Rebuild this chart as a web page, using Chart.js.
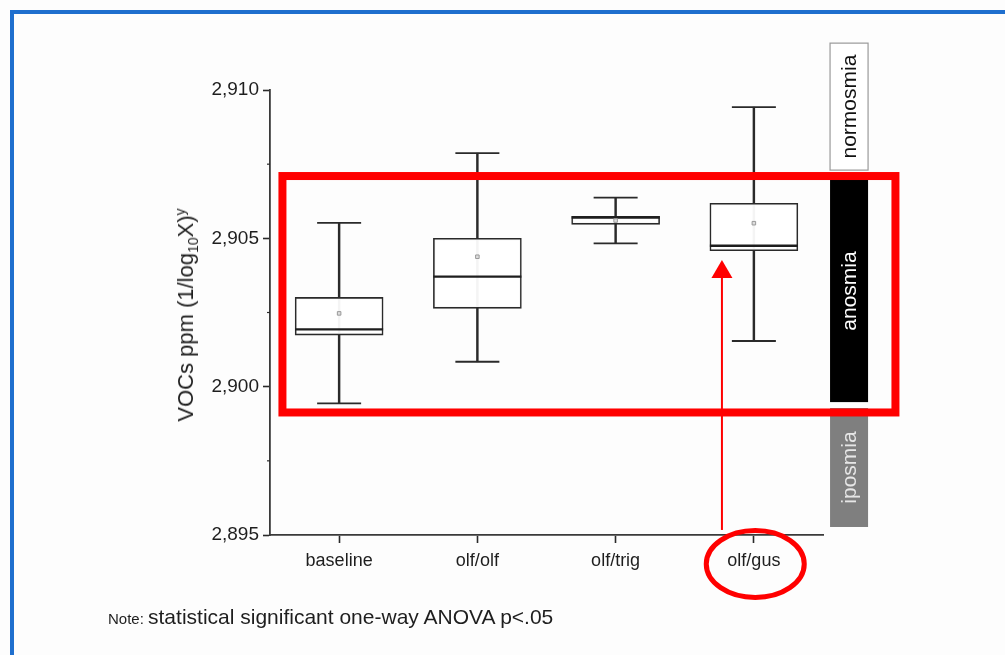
<!DOCTYPE html>
<html>
<head>
<meta charset="utf-8">
<script src="https://cdn.jsdelivr.net/npm/chart.js@4.4.1/dist/chart.umd.min.js"></script>
<style>
  html, body { margin: 0; padding: 0; background: #fdfdfd; }
  #wrap { position: relative; width: 1005px; height: 655px; overflow: hidden; font-family: "Liberation Sans", Arial, sans-serif; }
  #frame { position: absolute; left: 10px; top: 10px; width: 1100px; height: 800px;
           border-left: 4px solid #1f6fce; border-top: 4px solid #1f6fce; }
  #chartBox { position: absolute; left: 0; top: 0; width: 1005px; height: 655px; }
  #ytitle { position: absolute; left: 186px; top: 315px; transform: translate(-50%, -50%) rotate(-90deg);
            white-space: nowrap; font-size: 22px; color: #1e1e1e; }
  #ytitle sub, #ytitle sup { font-size: 14px; line-height: 0; }
  #note { position: absolute; left: 108px; top: 605px; white-space: nowrap; color: #1e1e1e; }
  #note .n { font-size: 15px; }
  #note .t { font-size: 21px; }
</style>
</head>
<body>
<div id="wrap">
  <div id="frame"></div>
  <div id="chartBox"><canvas id="myChart"></canvas></div>
  <div id="ytitle">VOCs ppm (1/log<sub>10</sub>X)<sup>y</sup></div>
  <div id="note"><span class="n">Note: </span><span class="t">statistical significant one-way ANOVA p&lt;.05</span></div>
</div>
<script>
// data
const groups = ["baseline", "olf/olf", "olf/trig", "olf/gus"];
const whiskerLow  = [2.89944, 2.90084, 2.90483, 2.90154];
const q1          = [2.90174, 2.90264, 2.90547, 2.90458];
const median      = [2.90193, 2.90371, 2.90570, 2.90475];
const q3          = [2.90301, 2.90500, 2.90574, 2.90618];
const whiskerHigh = [2.90552, 2.90787, 2.90637, 2.90942];
const means       = [2.90247, 2.90438, 2.90560, 2.90551];

const yMin = 2.895, yMax = 2.910, yStep = 0.0025;

// olfactory bands on the right (y in data units)
const bandNames = ["normosmia", "anosmia", "iposmia"];
const bandFrom  = [2.90730, 2.89948, 2.89527];
const bandTo    = [2.91158, 2.90697, 2.89928];
const bandFill  = ["#ffffff", "#000000", "#7f7f7f"];
const bandText  = ["#111111", "#ffffff", "#e6e6e6"];

const ink = "#2a2a2a";

const overlays = {
  id: "overlays",
  afterDraw(chart) {
    const ctx = chart.ctx;
    const x = chart.scales.x, y = chart.scales.y;
    ctx.save();

    // side bands
    const bx0 = x.getPixelForValue(3.551), bx1 = x.getPixelForValue(3.826);
    bandNames.forEach((name, i) => {
      const top = y.getPixelForValue(bandTo[i]);
      const bot = y.getPixelForValue(bandFrom[i]);
      ctx.fillStyle = bandFill[i];
      ctx.fillRect(bx0, top, bx1 - bx0, bot - top);
      if (i === 0) {
        ctx.strokeStyle = "#9a9a9a";
        ctx.lineWidth = 1.2;
        ctx.strokeRect(bx0, top, bx1 - bx0, bot - top);
      }
      ctx.save();
      ctx.translate((bx0 + bx1) / 2, (top + bot) / 2);
      ctx.rotate(-Math.PI / 2);
      ctx.fillStyle = bandText[i];
      ctx.font = '21px "Liberation Sans", Arial, sans-serif';
      ctx.textAlign = "center";
      ctx.textBaseline = "middle";
      ctx.fillText(name, 0, 1);
      ctx.restore();
    });

    // short minor ticks on the y axis
    ctx.strokeStyle = ink;
    ctx.lineWidth = 1.2;
    y.ticks.forEach(t => {
      if (isMajor(t.value)) return;
      const py = y.getPixelForValue(t.value);
      ctx.beginPath();
      ctx.moveTo(y.right - 3, py);
      ctx.lineTo(y.right, py);
      ctx.stroke();
    });

    // red highlight frame
    const fx0 = x.getPixelForValue(-0.41), fx1 = x.getPixelForValue(4.024);
    const fy0 = y.getPixelForValue(2.90710), fy1 = y.getPixelForValue(2.89913);
    ctx.strokeStyle = "#ff0000";
    ctx.lineWidth = 8;
    ctx.strokeRect(fx0, fy0, fx1 - fx0, fy1 - fy0);

    // arrow to olf/gus
    const ax = x.getPixelForValue(2.769);
    const tip = y.getPixelForValue(2.90427);
    const tail = y.getPixelForValue(2.89517);
    ctx.lineWidth = 2;
    ctx.beginPath();
    ctx.moveTo(ax, tail);
    ctx.lineTo(ax, tip + 16);
    ctx.stroke();
    ctx.fillStyle = "#ff0000";
    ctx.beginPath();
    ctx.moveTo(ax, tip);
    ctx.lineTo(ax - 10.5, tip + 18);
    ctx.lineTo(ax + 10.5, tip + 18);
    ctx.closePath();
    ctx.fill();

    // ellipse round the olf/gus label
    ctx.lineWidth = 5;
    ctx.beginPath();
    ctx.ellipse(x.getPixelForValue(3.01), chart.chartArea.bottom + 29, 49, 33.5, 0, 0, Math.PI * 2);
    ctx.stroke();

    ctx.restore();
  }
};

const isMajor = v => Math.abs(v * 200 - Math.round(v * 200)) < 1e-6;

new Chart(document.getElementById("myChart"), {
  type: "bar",
  data: {
    labels: groups,
    datasets: [
      {
        label: "whisker",
        data: groups.map((g, i) => [whiskerLow[i], whiskerHigh[i]]),
        backgroundColor: ink,
        borderWidth: 0,
        barThickness: 1.8,
        grouped: false,
        order: 10
      },
      {
        label: "box",
        data: groups.map((g, i) => [q1[i], q3[i]]),
        backgroundColor: "rgba(255,255,255,0.95)",
        borderColor: ink,
        borderWidth: 1.6,
        borderSkipped: false,
        barThickness: 88,
        grouped: false,
        order: 8
      },
      {
        type: "line",
        label: "low cap",
        data: whiskerLow,
        showLine: false,
        pointStyle: "line",
        pointRadius: 22,
        pointBorderWidth: 1.8,
        pointBorderColor: ink,
        order: 5
      },
      {
        type: "line",
        label: "high cap",
        data: whiskerHigh,
        showLine: false,
        pointStyle: "line",
        pointRadius: 22,
        pointBorderWidth: 1.8,
        pointBorderColor: ink,
        order: 5
      },
      {
        type: "line",
        label: "median",
        data: median,
        showLine: false,
        pointStyle: "line",
        pointRadius: 44,
        pointBorderWidth: 2.4,
        pointBorderColor: "#1e1e1e",
        order: 4
      },
      {
        type: "line",
        label: "mean",
        data: means,
        showLine: false,
        pointStyle: "rect",
        pointRadius: 2.5,
        pointBackgroundColor: "#dddddd",
        pointBorderColor: "#9a9a9a",
        pointBorderWidth: 1,
        order: 3
      }
    ]
  },
  options: {
    responsive: true,
    maintainAspectRatio: false,
    animation: false,
    events: [],
    layout: { padding: { left: 200, right: 182, top: 90, bottom: 75 } },
    plugins: { legend: { display: false }, tooltip: { enabled: false } },
    scales: {
      x: {
        afterFit: s => { s.height = 45; },
        grid: { drawOnChartArea: false, offset: false, tickLength: 8, tickColor: ink, tickWidth: 1.6 },
        border: { display: true, color: "#3a3a3a", width: 1.8 },
        ticks: { color: "#1e1e1e", padding: 7, font: { family: '"Liberation Sans", Arial, sans-serif', size: 18 } }
      },
      y: {
        min: yMin,
        max: yMax,
        afterFit: s => { s.width = 70; },
        afterBuildTicks: s => {
          const t = [];
          for (let k = 0; k <= Math.round((yMax - yMin) / yStep); k++) t.push({ value: +(yMin + k * yStep).toFixed(4) });
          s.ticks = t;
        },
        grid: {
          drawOnChartArea: false, tickLength: 7,
          tickColor: c => (c.tick && isMajor(c.tick.value) ? ink : "rgba(0,0,0,0)"),
          tickWidth: 1.6
        },
        border: { display: true, color: "#3a3a3a", width: 1.8 },
        ticks: {
          color: "#1e1e1e", padding: 4,
          font: { family: '"Liberation Sans", Arial, sans-serif', size: 19 },
          callback: v => (isMajor(v) ? v.toFixed(3).replace(".", ",") : "")
        }
      }
    }
  },
  plugins: [overlays]
});
</script>
</body>
</html>
